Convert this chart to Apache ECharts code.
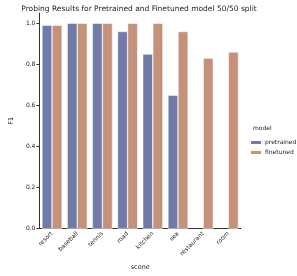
<!DOCTYPE html>
<html><head><meta charset="utf-8">
<script src="https://cdn.jsdelivr.net/npm/echarts@6/dist/echarts.min.js"></script>
<style>html,body{margin:0;padding:0;background:#fff}#c{width:297px;height:276px}</style>
</head><body><div id="c"></div>
<script>
const categories = ["resort","baseball","tennis","road","kitchen","sea","restaurant","room"];
const pretrained = [0.99, 1.0, 1.0, 0.96, 0.85, 0.65, null, null];
const finetuned = [0.99, 1.0, 1.0, 1.0, 1.0, 0.96, 0.83, 0.86];
const yTicks = [0, 0.2, 0.4, 0.6, 0.8, 1.0];
const F = "DejaVu Sans";
const chart = echarts.init(document.getElementById('c'), null, {renderer:'canvas'});
chart.setOption({
  animation:false,
  title:{text:"Probing Results for Pretrained and Finetuned model 50/50 split", left:134, top:0, textAlign:'center',
    textStyle:{fontFamily:F, fontSize:7.5, fontWeight:'normal', color:'#222'}},
  grid:{left:26, right:56, top:13, bottom:42},
  legend:{orient:'vertical', left:244, top:134, itemWidth:12, itemHeight:5, itemGap:3,
    textStyle:{fontFamily:F, fontSize:6, color:'#222', padding:[0,0,0,-2]}, data:['pretrained','finetuned']},
  graphic:[{type:'text', left:253, top:125, style:{text:'model', font:'6px "DejaVu Sans"', fill:'#222'}}],
  xAxis:{type:'category', data:categories, name:'scene', nameLocation:'middle', nameGap:32,
    nameTextStyle:{fontFamily:F, fontSize:6.5, color:'#222'},
    axisLine:{lineStyle:{color:'#333', width:1}}, axisTick:{alignWithLabel:true, length:3, lineStyle:{color:'#333'}},
    axisLabel:{rotate:45, fontFamily:F, fontSize:6, color:'#222', margin:4, interval:0}},
  yAxis:{type:'value', min:0, max:1.05, name:'F1', nameLocation:'middle', nameGap:18,
    nameTextStyle:{fontFamily:F, fontSize:6.5, color:'#222'},
    splitLine:{show:false},
    axisLine:{show:true, lineStyle:{color:'#333', width:1}},
    axisTick:{show:true, length:3, lineStyle:{color:'#333'}, customValues:yTicks},
    axisLabel:{fontFamily:F, fontSize:6, color:'#222', margin:4, customValues:yTicks, formatter:v=>v.toFixed(1)}},
  series:[
    {name:'pretrained', type:'bar', data:pretrained, barGap:'0%', barCategoryGap:'20%',
      itemStyle:{color:'#707ba8', borderColor:'#ffffff', borderWidth:0.5}},
    {name:'finetuned', type:'bar', data:finetuned,
      itemStyle:{color:'#c4927a', borderColor:'#ffffff', borderWidth:0.5}}
  ]
});
</script></body></html>
